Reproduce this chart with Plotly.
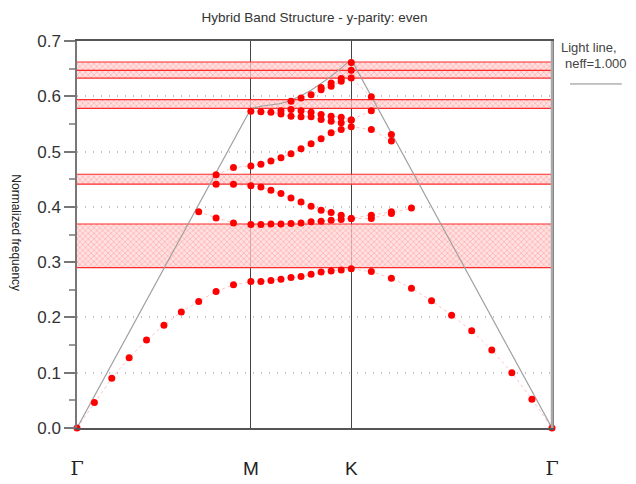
import plotly.graph_objects as go

# k-path positions (Gamma-M-K-Gamma), 31 sampled points
k_path = [0.0000, 0.0577, 0.1155, 0.1732, 0.2309, 0.2887, 0.3464, 0.4041, 0.4619, 0.5196, 0.5774,
          0.6107, 0.6440, 0.6774, 0.7107, 0.7440, 0.7774, 0.8107, 0.8440, 0.8774, 0.9107,
          0.9774, 1.0440, 1.1107, 1.1774, 1.2440, 1.3107, 1.3774, 1.4440, 1.5107, 1.5774]

sym_pos = [0.0, 0.5774, 0.9107, 1.5774]
sym_labels = ["<span style='font-family:DejaVu Serif'>Γ</span>", "M", "K",
              "<span style='font-family:DejaVu Serif'>Γ</span>"]

# light line (neff = 1.000)
light_k = [0.0, 0.5774, 0.6107, 0.6440, 0.6774, 0.7107, 0.7440, 0.7774, 0.8107, 0.8440, 0.8774, 0.9107, 1.5774]
light_f = [0.0, 0.5774, 0.5820, 0.5850, 0.5870, 0.5930, 0.6010, 0.6110, 0.6230, 0.6360, 0.6510, 0.6667, 0.0]

N = None
band1 = [0.000, 0.046, 0.090, 0.127, 0.159, 0.186, 0.210, 0.229, 0.247, 0.259, 0.265,
         0.265, 0.267, 0.269, 0.272, 0.274, 0.278, 0.282, 0.284, 0.286, 0.288,
         0.283, 0.271, 0.253, 0.230, 0.204, 0.176, 0.141, 0.100, 0.052, 0.000]
band2 = [N, N, N, N, N, N, N, 0.391, 0.380, 0.371, 0.368,
         0.368, 0.369, 0.369, 0.370, 0.371, 0.373, 0.374, 0.376, 0.377, 0.379,
         0.379, 0.388, 0.398, N, N, N, N, N, N, N]
band3 = [N, N, N, N, N, N, N, N, 0.441, 0.441, 0.438,
         0.436, 0.430, 0.424, 0.416, 0.409, 0.401, 0.394, 0.390, 0.385, 0.379,
         0.385, 0.391, N, N, N, N, N, N, N, N]
band4 = [N, N, N, N, N, N, N, N, 0.458, 0.471, 0.474,
         0.477, 0.483, 0.489, 0.496, 0.505, 0.514, 0.523, 0.534, 0.540, 0.545,
         0.540, 0.519, N, N, N, N, N, N, N, N]
band5 = [N, N, N, N, N, N, N, N, N, N, 0.573,
         0.572, 0.571, 0.568, 0.564, 0.563, 0.563, 0.558, 0.555, 0.552, 0.557,
         N, 0.531, N, N, N, N, N, N, N, N]
band6 = [N, N, N, N, N, N, N, N, N, N, N,
         N, N, 0.574, 0.576, 0.574, 0.571, 0.567, 0.564, 0.562, 0.557,
         0.574, N, N, N, N, N, N, N, N, N]
band7 = [N, N, N, N, N, N, N, N, N, N, N,
         N, N, N, 0.591, 0.597, 0.603, 0.612, 0.618, 0.627, 0.633,
         0.599, N, N, N, N, N, N, N, N, N]
band8 = [N, N, N, N, N, N, N, N, N, N, N,
         N, N, N, N, N, N, 0.616, 0.624, 0.632, 0.647,
         N, N, N, N, N, N, N, N, N, N]
band9 = [N, N, N, N, N, N, N, N, N, N, N,
         N, N, N, N, N, N, N, N, N, 0.661,
         N, N, N, N, N, N, N, N, N, N]
bands = [band1, band2, band3, band4, band5, band6, band7, band8, band9]

# photonic band gaps
gap_lo = [0.290, 0.441, 0.578, 0.633, 0.647]
gap_hi = [0.369, 0.459, 0.594, 0.647, 0.662]

y_ticks = [0.0, 0.1, 0.2, 0.3, 0.4, 0.5, 0.6, 0.7]

K_END = k_path[-1]
fig = go.Figure()

for lo, hi in zip(gap_lo, gap_hi):
    fig.add_trace(go.Scatter(
        x=[0, K_END, K_END, 0, 0], y=[lo, lo, hi, hi, lo], mode="lines",
        fill="toself", line=dict(width=0), fillcolor="rgba(255,190,190,0.6)",
        fillpattern=dict(shape="x", fgcolor="rgba(255,70,70,0.55)", bgcolor="rgba(255,215,215,0.75)",
                         size=4, solidity=0.4),
        hoverinfo="skip", showlegend=False))
    for v in (lo, hi):
        fig.add_trace(go.Scatter(x=[0, K_END], y=[v, v], mode="lines",
                                 line=dict(color="#ff2a2a", width=1.2),
                                 hoverinfo="skip", showlegend=False))

fig.add_trace(go.Scatter(x=light_k, y=light_f, mode="lines",
                         line=dict(color="#a0a0a0", width=1.2), showlegend=False))

for b in bands:
    fig.add_trace(go.Scatter(x=k_path, y=b, mode="lines", connectgaps=False,
                             line=dict(color="rgba(255,80,80,0.35)", width=1, dash="dot"),
                             hoverinfo="skip", showlegend=False))
    fig.add_trace(go.Scatter(x=k_path, y=b, mode="markers", cliponaxis=False,
                             marker=dict(color="#ff0000", size=7),
                             showlegend=False))

# page body adds an 8px offset; margins compensate so the plot lands where the reference has it
fig.update_layout(
    width=636, height=484,
    margin=dict(l=69, r=92, t=33, b=64, autoexpand=False),
    plot_bgcolor="white", paper_bgcolor="white",
    font=dict(family="Liberation Sans, Arial, sans-serif", color="#333"),
    title=dict(text="Hybrid Band Structure - y-parity: even", x=(69 + 475 / 2) / 636, xanchor="center",
               y=1 - 9 / 484, yanchor="middle", pad=dict(t=0, b=0),
               font=dict(size=13.5, color="#333")),
    xaxis=dict(range=[0, K_END], tickvals=sym_pos, ticktext=sym_labels, automargin=False,
               showgrid=True, gridcolor="#444", gridwidth=1.2,
               showline=True, linecolor="#555", linewidth=1.5, mirror=True,
               ticks="", ticklabelstandoff=22, tickfont=dict(size=19, color="#222"),
               zeroline=False, fixedrange=True),
    yaxis=dict(range=[0, 0.7], tickvals=y_ticks, tickformat=".1f", automargin=False,
               showgrid=True, gridcolor="#c0c0c0", gridwidth=1.5, griddash="1px,7px",
               showline=True, linecolor="#777", linewidth=1.5, mirror=True,
               ticks="outside", ticklen=11, tickcolor="#777", tickwidth=1.5,
               minor=dict(dtick=0.05, ticks="outside", ticklen=6, tickcolor="#999", showgrid=False),
               tickfont=dict(size=17, color="#333"), zeroline=False, fixedrange=True),
    annotations=[
        dict(text="Normalized frequency", xref="paper", yref="paper", x=-0.128, y=0.505,
             textangle=90, showarrow=False, font=dict(size=12, color="#222"),
             xanchor="center", yanchor="middle"),
        dict(text="Light line,", xref="paper", yref="paper", x=1.015, y=0.982,
             xanchor="left", yanchor="middle", showarrow=False, font=dict(size=13, color="#444")),
        dict(text="neff=1.000", xref="paper", yref="paper", x=1.024, y=0.941,
             xanchor="left", yanchor="middle", showarrow=False, font=dict(size=13, color="#444")),
    ],
    shapes=[
        dict(type="line", xref="paper", yref="paper", x0=1.038, x1=1.147, y0=0.889, y1=0.889,
             line=dict(color="#888", width=1)),
        dict(type="line", xref="paper", yref="paper", x0=1.0, x1=1.0, y0=0, y1=1,
             line=dict(color="#aaa", width=2.5)),
    ],
)

fig.write_html("out.html")
